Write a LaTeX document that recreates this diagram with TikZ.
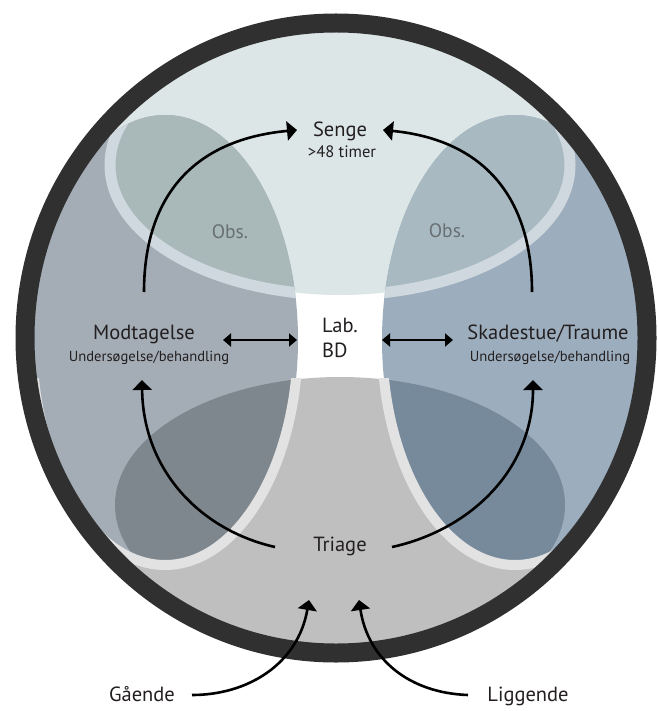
\documentclass[tikz,border=0pt]{standalone}
\usepackage{fontspec}
\setmainfont{PT Sans}
\usetikzlibrary{arrows.meta}
\definecolor{ringc}{HTML}{303030}
\definecolor{topc}{HTML}{DCE6E6}
\definecolor{leftc}{HTML}{A4ADB6}
\definecolor{rightc}{HTML}{9CADBD}
\definecolor{tllobe}{HTML}{A9B8B9}
\definecolor{trlobe}{HTML}{A8B9C2}
\definecolor{botc}{HTML}{BFBFBF}
\definecolor{bllobe}{HTML}{7E878E}
\definecolor{brlobe}{HTML}{778A9B}
\definecolor{topband}{HTML}{CFD8DE}
\definecolor{botband}{HTML}{E2E2E2}
\definecolor{txtc}{HTML}{231F20}
\definecolor{obsc}{HTML}{687073}
\newcommand\ovInner{(336,338) ellipse [x radius=302, y radius=306]}
\newcommand\ovTop{(340,165) ellipse [x radius=230, y radius=130]}
\newcommand\ovBot{(340,505) ellipse [x radius=225, y radius=128]}
\newcommand\ovLeft{(165,340) ellipse [x radius=133, y radius=225]}
\newcommand\ovRight{(515,340) ellipse [x radius=133, y radius=225]}
\tikzset{
  lbl/.style={inner sep=0pt, anchor=base, text=txtc, font=\fontsize{20.5}{22}\selectfont},
  sublbl/.style={inner sep=0pt, anchor=base, text=txtc, font=\fontsize{14.6}{16}\selectfont},
  timerlbl/.style={inner sep=0pt, anchor=base, text=txtc, font=\fontsize{16.5}{18}\selectfont},
  obslbl/.style={inner sep=0pt, anchor=base, text=obsc, font=\fontsize{19.5}{21}\selectfont},
  flow/.style={line width=2.6pt, draw=black, -{Triangle[length=10pt,width=19pt]}},
  twoway/.style={line width=2pt, draw=black, {Triangle[length=8pt,width=13pt]}-{Triangle[length=8pt,width=13pt]}}
}
\begin{document}
\begin{tikzpicture}[x=1pt,y=-1pt]
\useasboundingbox (0,0) rectangle (657,711);
% ---- regions ----
\begin{scope}
  \clip \ovInner;
  \fill[white] \ovInner;
  \fill[topc] (0,0) rectangle (657,165);
  \fill[topc] \ovTop;
  \fill[botc] (0,505) rectangle (657,711);
  \fill[botc] \ovBot;
  \fill[leftc] \ovLeft;
  \fill[rightc] \ovRight;
  \begin{scope}
    \clip \ovLeft;
    \fill[tllobe] \ovTop;
    \fill[bllobe] \ovBot;
    \draw[topband, line width=11pt] \ovTop;
  \end{scope}
  \begin{scope}
    \clip \ovRight;
    \fill[trlobe] \ovTop;
    \fill[brlobe] \ovBot;
    \draw[topband, line width=11pt] \ovTop;
  \end{scope}
  \begin{scope}
    \clip (0,378) rectangle (657,711);
    \draw[botband, line width=10pt] \ovLeft;
    \draw[botband, line width=10pt] \ovRight;
  \end{scope}
\end{scope}
\draw[ringc, line width=19pt] (336,338) ellipse [x radius=311, y radius=315];
% ---- labels ----
\node[lbl] (senge) at (340,137) {Senge};
\node[timerlbl] (timer) at (342,158) {>48 timer};
\node[obslbl] (obsL) at (230,238) {Obs.};
\node[obslbl] (obsR) at (447,237) {Obs.};
\node[lbl] (modt) at (144,339) {Modtagelse};
\node[sublbl] (modtsub) at (149,361) {Undersøgelse/behandling};
\node[lbl] (skad) at (548,339) {Skadestue/Traume};
\node[sublbl] (skadsub) at (550,361) {Undersøgelse/behandling};
\node[lbl, anchor=base west] (lab) at (322,332) {Lab.};
\node[lbl, anchor=base west] (bd) at (322,357) {BD};
\node[lbl] (triage) at (340,551) {Triage};
\node[lbl] (gaa) at (142,701) {Gående};
\node[lbl] (lig) at (528,701) {Liggende};
% ---- connector ends ----
\coordinate (modtTop) at (144,292);
\coordinate (skadTop) at (532,292);
\coordinate (sengeW) at (297,130);
\coordinate (sengeE) at (383,130);
\coordinate (modtBot) at (142,380);
\coordinate (skadBot) at (533,380);
\coordinate (triW) at (275,547);
\coordinate (triE) at (392,547);
\coordinate (triIn1) at (309,600);
\coordinate (triIn2) at (359,600);
\coordinate (gaaE) at (192,695);
\coordinate (ligW) at (468,695);
\coordinate (modtE) at (223,340);
\coordinate (labW) at (297,340);
\coordinate (labE) at (382,340);
\coordinate (skadW) at (453,340);
% ---- connectors ----
\draw[flow] (modtTop) .. controls (144,200) and (190,140) .. (sengeW);
\draw[flow] (skadTop) .. controls (532,200) and (486,140) .. (sengeE);
\draw[flow] (triW) .. controls (200,530) and (143,470) .. (modtBot);
\draw[flow] (triE) .. controls (470,530) and (533,470) .. (skadBot);
\draw[flow] (gaaE) .. controls (248,695) and (298,664) .. (triIn1);
\draw[flow] (ligW) .. controls (410,693) and (368,660) .. (triIn2);
\draw[twoway] (modtE) -- (labW);
\draw[twoway] (labE) -- (skadW);
\end{tikzpicture}
\end{document}
